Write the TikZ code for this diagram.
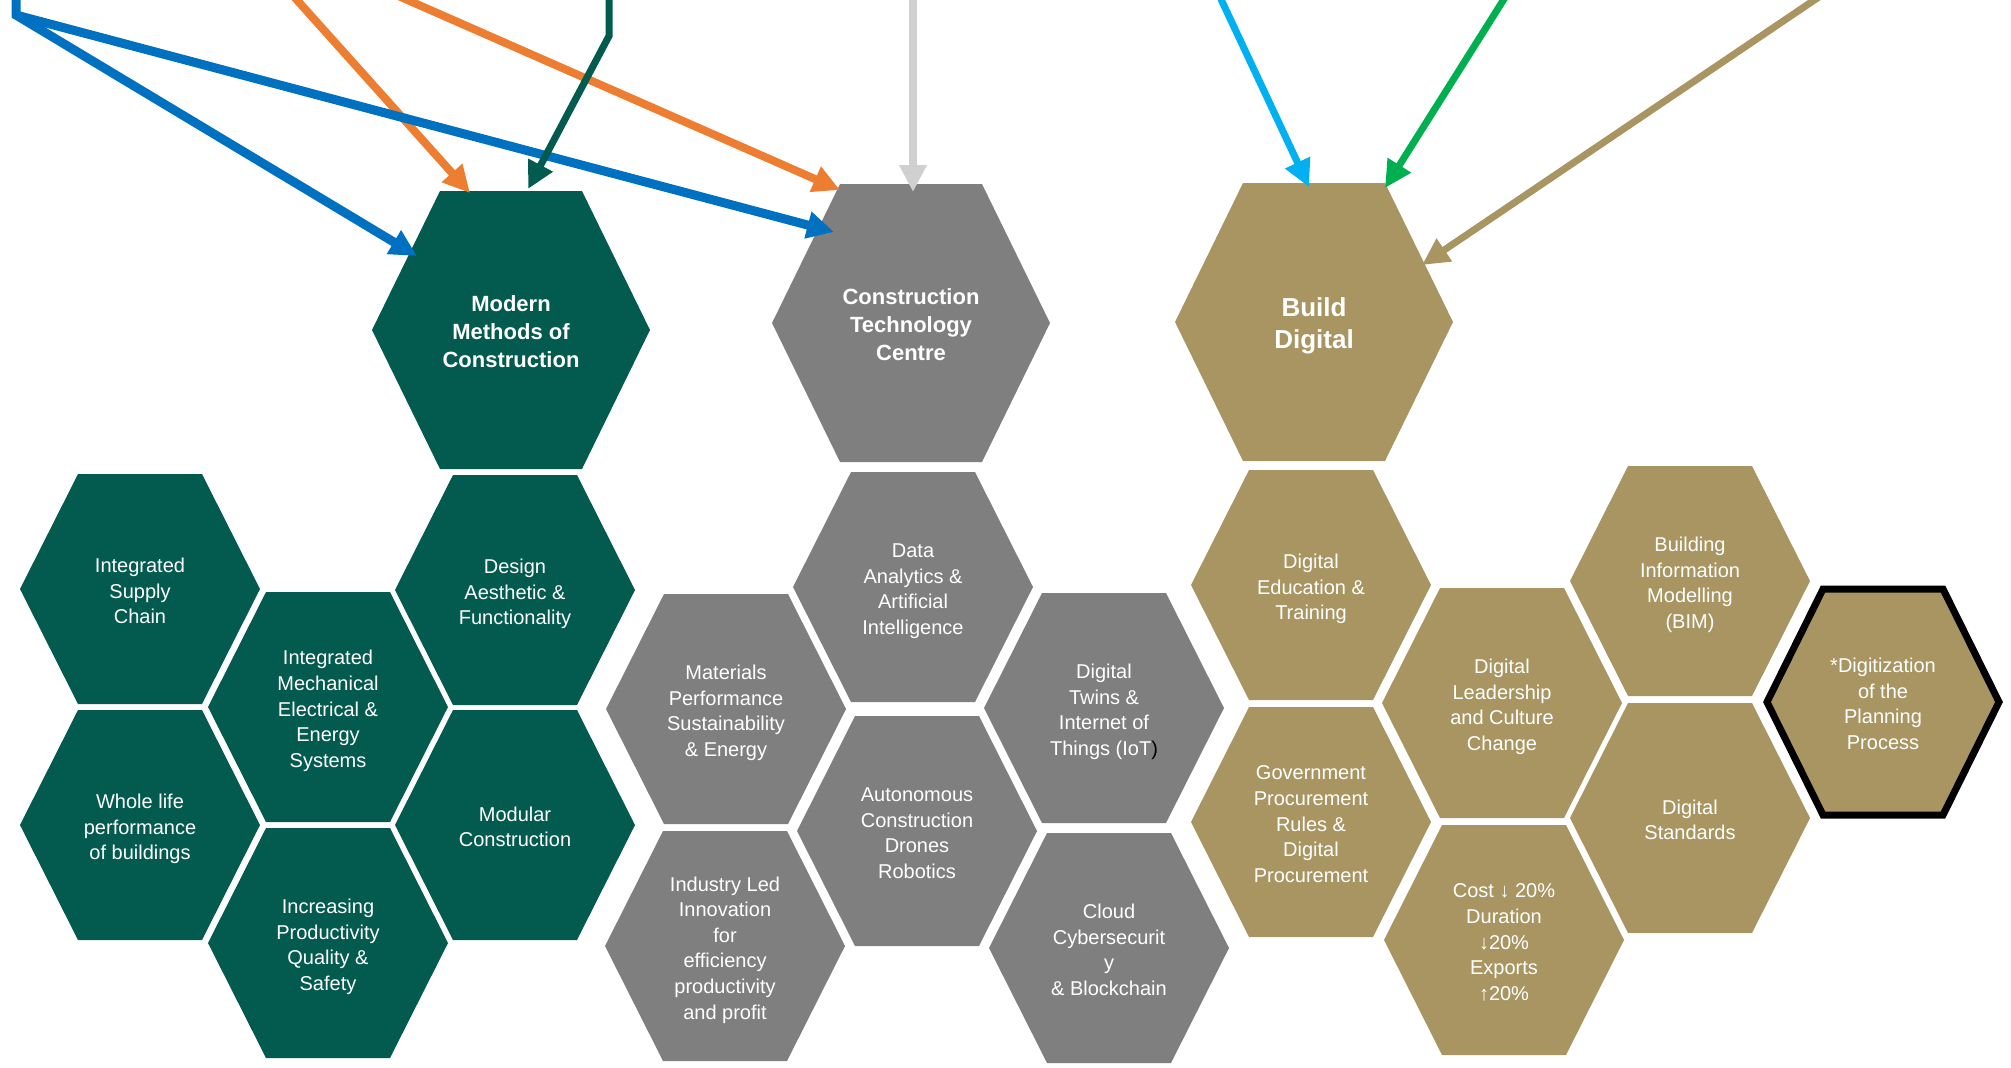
\documentclass[tikz,border=0pt]{standalone}
\usepackage{fontspec}
\setmainfont{Liberation Sans}
\usetikzlibrary{arrows.meta,calc}

\definecolor{mmcgreen}{HTML}{035A4F}
\definecolor{ctcgrey}{HTML}{7F7F7F}
\definecolor{bdgold}{HTML}{A89561}
\definecolor{arrowblue}{HTML}{0070C0}
\definecolor{arroworange}{HTML}{ED7D31}
\definecolor{arrowgrey}{HTML}{D0D0D0}
\definecolor{arrowcyan}{HTML}{00B0F0}
\definecolor{arrowgreen}{HTML}{00B050}

\newcommand{\smallhex}[5]{%
  \fill [#4] (#2-120,#3) -- (#2-62,#3-115) -- (#2+62,#3-115) -- (#2+120,#3) -- (#2+62,#3+115) -- (#2-62,#3+115) -- cycle;
  \node [hexlabel] (#1) at (#2,#3) {\strut#5\strut};}
\newcommand{\bighex}[6]{%
  \fill [#4] (#2-139,#3) -- (#2-71,#3-139) -- (#2+71,#3-139) -- (#2+139,#3) -- (#2+71,#3+139) -- (#2-71,#3+139) -- cycle;
  \node [#5] (#1) at (#2,#3) {\strut#6\strut};}

\begin{document}
\begin{tikzpicture}[x=0.5pt,y=-0.5pt,
  hexlabel/.style={text=white,align=center,inner sep=0pt,yshift=-2pt,font=\fontsize{10}{12.8}\selectfont},
  hexhead/.style={text=white,align=center,inner sep=0pt,yshift=-2pt,font=\bfseries\fontsize{11}{13.8}\selectfont},
  hexbig/.style={text=white,align=center,inner sep=0pt,yshift=-2pt,font=\bfseries\fontsize{13}{16}\selectfont},
  link/.style={-{Triangle[length=13.5pt,width=13pt]},line width=3.5pt}]
\useasboundingbox (0,0) rectangle (2011,1067);

\bighex{mmc}{511}{330}{mmcgreen}{hexhead}{Modern\\Methods of\\Construction}
\smallhex{isc}{140}{589}{mmcgreen}{Integrated\\Supply\\Chain}
\smallhex{whole}{140}{825}{mmcgreen}{Whole life\\performance\\of buildings}
\smallhex{imees}{328}{707}{mmcgreen}{Integrated\\Mechanical\\Electrical \&\\Energy\\Systems}
\smallhex{incr}{328}{943}{mmcgreen}{Increasing\\Productivity\\Quality \&\\Safety}
\smallhex{design}{515}{590}{mmcgreen}{Design\\Aesthetic \&\\Functionality}
\smallhex{modular}{515}{825}{mmcgreen}{Modular\\Construction}

\bighex{ctc}{911}{323}{ctcgrey}{hexhead}{Construction\\Technology\\Centre}
\smallhex{data}{913}{587}{ctcgrey}{Data\\Analytics \&\\Artificial\\Intelligence}
\smallhex{materials}{726}{709}{ctcgrey}{Materials\\Performance\\Sustainability\\\& Energy}
\smallhex{twins}{1104}{708}{ctcgrey}{Digital\\Twins \&\\Internet of\\Things (IoT\textcolor{black}{)}}
\smallhex{autonomous}{917}{831}{ctcgrey}{Autonomous\\Construction\\Drones\\Robotics}
\smallhex{industry}{725}{946}{ctcgrey}{Industry Led\\Innovation\\for\\efficiency\\productivity\\and profit}
\smallhex{cloud}{1109}{948}{ctcgrey}{Cloud\\Cybersecurit\\y\\\& Blockchain}

\bighex{bd}{1314}{322}{bdgold}{hexbig}{Build\\Digital}
\smallhex{education}{1311}{585}{bdgold}{Digital\\Education \&\\Training}
\smallhex{procurement}{1311}{822}{bdgold}{Government\\Procurement\\Rules \&\\Digital\\Procurement}
\smallhex{leadership}{1502}{703}{bdgold}{Digital\\Leadership\\and Culture\\Change}
\smallhex{targets}{1504}{940}{bdgold}{Cost ↓ 20\%\\Duration\\↓20\%\\Exports\\↑20\%}
\smallhex{bim}{1690}{581}{bdgold}{Building\\Information\\Modelling\\(BIM)}
\smallhex{standards}{1690}{818}{bdgold}{Digital\\Standards}
\draw [fill=bdgold,line width=3.5pt] (1767,702) -- (1823,589) -- (1943,589) -- (1999,702) -- (1943,815) -- (1823,815) -- cycle;
\node [hexlabel] (planning) at (1883,702) {\strut*Digitization\\of the\\Planning\\Process\strut};

\coordinate (orangeA) at (279,-20);
\coordinate (orangeB) at (362,-20);
\coordinate (blueA) at (16,-20);
\coordinate (blueB) at (16,15);
\coordinate (tealA) at (609,-20);
\coordinate (tealB) at (609,36);
\coordinate (greyA) at (913,-20);
\coordinate (cyanA) at (1212,-20);
\coordinate (greenA) at (1516,-20);
\coordinate (goldA) at (1844,-20);

\draw [link,arroworange,line width=4pt] (orangeA) -- ($(mmc)+(-41,-141)$);
\draw [link,arroworange,line width=4pt] (orangeB) -- ($(ctc)+(-71,-137)$);
\draw [link,arrowblue,line width=4.5pt] (blueA) -- (blueB) -- ($(mmc)+(-94,-78)$);
\draw [link,arrowblue,line width=4.5pt] (blueB) -- ($(ctc)+(-77,-95)$);
\draw [link,mmcgreen] (tealA) -- (tealB) -- ($(mmc)+(17,-145)$);
\draw [link,arrowgrey,line width=4pt] (greyA) -- ($(ctc)+(2,-135)$);
\draw [link,arrowcyan] (cyanA) -- ($(bd)+(-5,-139)$);
\draw [link,arrowgreen] (greenA) -- ($(bd)+(71,-138)$);
\draw [link,bdgold] (goldA) -- ($(bd)+(108,-61)$);
\end{tikzpicture}
\end{document}
